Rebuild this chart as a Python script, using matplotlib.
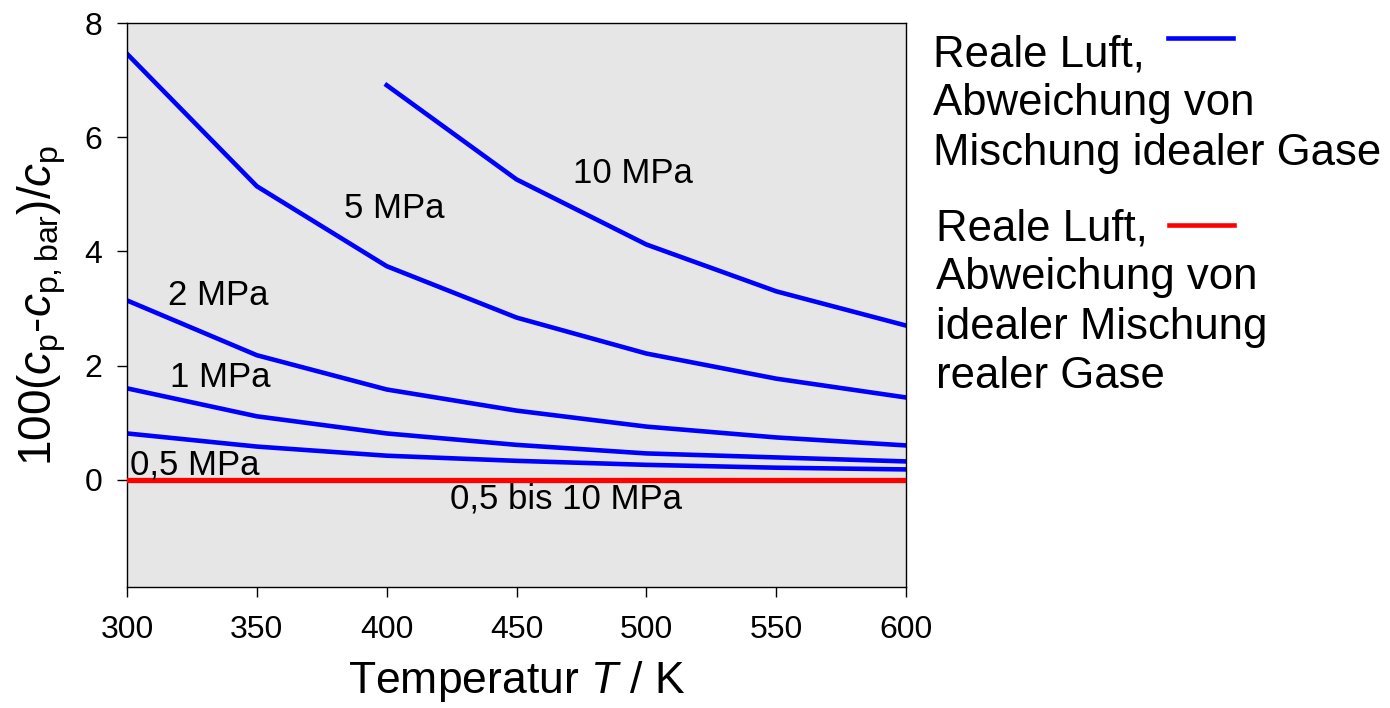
import matplotlib
matplotlib.use("Agg")
import matplotlib.pyplot as plt
from matplotlib.lines import Line2D

plt.rcParams["font.family"] = ["Liberation Sans", "DejaVu Sans"]
plt.rcParams["mathtext.fontset"] = "custom"
plt.rcParams["mathtext.rm"] = "Liberation Sans"
plt.rcParams["mathtext.it"] = "Liberation Sans:italic"

# temperature grid in K
T = [300, 350, 400, 450, 500, 550, 600]
T_10 = [400, 450, 500, 550, 600]

# 100*(cp - cp,bar)/cp, deviation from mixture of ideal gases
dev_05 = [0.81, 0.58, 0.42, 0.33, 0.26, 0.21, 0.18]
dev_1 = [1.60, 1.11, 0.81, 0.61, 0.46, 0.39, 0.32]
dev_2 = [3.14, 2.18, 1.58, 1.21, 0.93, 0.74, 0.60]
dev_5 = [7.46, 5.14, 3.74, 2.84, 2.21, 1.77, 1.44]
dev_10 = [6.91, 5.26, 4.12, 3.30, 2.70]
# deviation from ideal mixture of real gases (0.5 ... 10 MPa)
dev_real = [0, 0, 0, 0, 0, 0, 0]

labels = ["0,5 MPa", "1 MPa", "2 MPa", "5 MPa", "10 MPa", "0,5 bis 10 MPa"]
label_pos = [(326, 0.25), (336, 1.79), (335, 3.23), (403, 4.75), (495, 5.37), (469, -0.33)]

fig = plt.figure(figsize=(13.9, 7.08), dpi=100)
ax = fig.add_axes([0.0914, 0.1709, 0.5604, 0.7966])
ax.set_facecolor("#e6e6e6")

blue = "#0000ff"
for y in (dev_05, dev_1, dev_2, dev_5):
    ax.plot(T, y, color=blue, lw=3.3)
ax.plot(T_10, dev_10, color=blue, lw=3.3)
ax.plot(T, dev_real, color="#ff0000", lw=3.8, zorder=3)

for txt, (x, y) in zip(labels, label_pos):
    ax.text(x, y, txt, fontsize=25, ha="center", va="center")

ax.set_xlim(300, 600)
ax.set_ylim(-1.88, 8)
ax.set_xticks(T)
ax.set_yticks([0, 2, 4, 6, 8])
ax.tick_params(axis="both", direction="out", length=7, width=1, labelsize=23,
               top=False, right=False)
ax.tick_params(axis="x", pad=13)
ax.tick_params(axis="y", pad=11)
for s in ax.spines.values():
    s.set_linewidth(1)

ax.set_xlabel("Temperatur $\\mathit{T}$ / K", fontsize=32, labelpad=10)
ax.set_ylabel("100($\\mathit{c}_\\mathrm{p}$-$\\mathit{c}_\\mathrm{p,bar}$)/$\\mathit{c}_\\mathrm{p}$",
              fontsize=33, labelpad=12)

# legend drawn as text blocks with short line samples
W, H = 1390, 708
block1 = ["Reale Luft,", "Abweichung von", "Mischung idealer Gase"]
block2 = ["Reale Luft,", "Abweichung von", "idealer Mischung", "realer Gase"]
for i, line in enumerate(block1):
    fig.text(933 / W, 1 - (55 + 49 * i) / H, line, fontsize=31.5, va="center", ha="left")
for i, line in enumerate(block2):
    fig.text(936 / W, 1 - (229 + 49 * i) / H, line, fontsize=31.5, va="center", ha="left")
fig.add_artist(Line2D([1168 / W, 1233 / W], [1 - 38 / H, 1 - 38 / H], color=blue, lw=3.3))
fig.add_artist(Line2D([1169 / W, 1234 / W], [1 - 225 / H, 1 - 225 / H], color="#ff0000", lw=3.3))

fig.savefig("out.png", dpi=100)
